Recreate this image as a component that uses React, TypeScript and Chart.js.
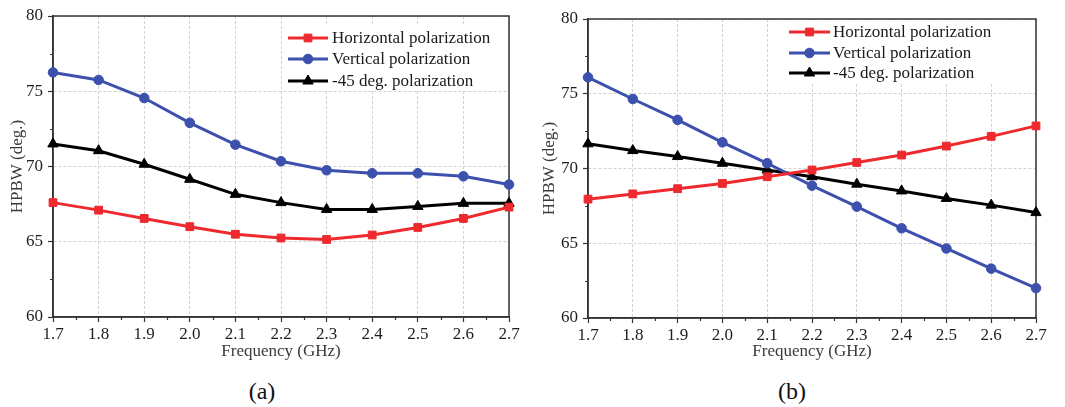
import React, { useEffect, useRef } from 'react';
import { Chart, registerables } from 'chart.js';

Chart.register(...registerables);

// ---------- data ----------
const frequency = [1.7, 1.8, 1.9, 2.0, 2.1, 2.2, 2.3, 2.4, 2.5, 2.6, 2.7];
const xTickValues = [1.7, 1.8, 1.9, 2.0, 2.1, 2.2, 2.3, 2.4, 2.5, 2.6, 2.7];
const xMinorValues = [1.75, 1.85, 1.95, 2.05, 2.15, 2.25, 2.35, 2.45, 2.55, 2.65];
const yTickValues = [60, 65, 70, 75, 80];
const yMinorValues = [62.5, 67.5, 72.5, 77.5];

const seriesNames = ['Horizontal polarization', 'Vertical polarization', '-45 deg. polarization'];

const horizontalA = [67.6, 67.1, 66.55, 66.0, 65.5, 65.25, 65.15, 65.45, 65.95, 66.55, 67.3];
const verticalA = [76.25, 75.75, 74.55, 72.9, 71.45, 70.35, 69.75, 69.55, 69.55, 69.35, 68.8];
const minus45A = [71.5, 71.05, 70.15, 69.15, 68.15, 67.6, 67.15, 67.15, 67.35, 67.55, 67.55];

const horizontalB = [67.95, 68.3, 68.65, 69.0, 69.45, 69.9, 70.4, 70.9, 71.5, 72.15, 72.85];
const verticalB = [76.1, 74.65, 73.25, 71.75, 70.35, 68.85, 67.45, 66.0, 64.65, 63.3, 62.0];
const minus45B = [71.65, 71.2, 70.8, 70.35, 69.9, 69.45, 68.95, 68.5, 68.0, 67.55, 67.05];

// ---------- styles ----------
const FONT = '"Liberation Serif", "Times New Roman", serif';
const FS = 17;
const RED = '#ee2a2e';
const BLUE = '#3c50ad';
const BLACK = '#000000';
const colors = [RED, BLUE, BLACK];
const pointStyles = ['rect', 'circle', 'triangle'];
const pointRadii = [5.5, 4.8, 6];

type Panel = {
  left: number;
  width: number;
  height: number;
  yAxisWidth: number;
  xAxisHeight: number;
  padTop: number;
  padRight: number;
  yTitlePad: number;
  legend: { x0: number; x1: number; tx: number; ys: number[]; box: number[] };
};

const panelA: Panel = {
  left: 0,
  width: 525,
  height: 370,
  yAxisWidth: 53,
  xAxisHeight: 53,
  padTop: 16,
  padRight: 16,
  yTitlePad: 7.8,
  legend: { x0: 288, x1: 328, tx: 332, ys: [38, 59, 81], box: [283, 25, 505, 91] },
};

const panelB: Panel = {
  left: 530,
  width: 535,
  height: 370,
  yAxisWidth: 58,
  xAxisHeight: 52,
  padTop: 19,
  padRight: 29,
  yTitlePad: 9.8,
  legend: { x0: 259, x1: 300, tx: 303, ys: [32, 53, 73], box: [254, 20, 490, 84] },
};

function drawMarker(ctx: CanvasRenderingContext2D, style: string, x: number, y: number, r: number, color: string) {
  ctx.save();
  ctx.fillStyle = color;
  ctx.strokeStyle = color;
  ctx.lineWidth = 1;
  ctx.beginPath();
  if (style === 'rect') {
    const s = r * Math.SQRT1_2;
    ctx.rect(x - s, y - s, 2 * s, 2 * s);
  } else if (style === 'circle') {
    ctx.arc(x, y, r, 0, Math.PI * 2);
  } else {
    ctx.moveTo(x, y - r);
    ctx.lineTo(x + r * 0.866, y + r * 0.5);
    ctx.lineTo(x - r * 0.866, y + r * 0.5);
    ctx.closePath();
  }
  ctx.fill();
  ctx.stroke();
  ctx.restore();
}

const framePlugin = {
  id: 'frameAndMinor',
  beforeDatasetsDraw(chart: any) {
    const { ctx, chartArea } = chart;
    const xs = chart.scales.x;
    const ys = chart.scales.y;
    ctx.save();
    ctx.strokeStyle = '#333333';
    ctx.lineWidth = 1.5;
    ctx.strokeRect(chartArea.left, chartArea.top, chartArea.right - chartArea.left, chartArea.bottom - chartArea.top);
    ctx.lineWidth = 1.2;
    ctx.beginPath();
    xMinorValues.forEach((v) => {
      const px = Math.round(xs.getPixelForValue(v)) + 0.5;
      ctx.moveTo(px, chartArea.bottom);
      ctx.lineTo(px, chartArea.bottom + 3);
    });
    yMinorValues.forEach((v) => {
      const py = Math.round(ys.getPixelForValue(v)) + 0.5;
      ctx.moveTo(chartArea.left, py);
      ctx.lineTo(chartArea.left - 3, py);
    });
    ctx.stroke();
    ctx.restore();
  },
};

const legendPlugin = {
  id: 'innerLegend',
  afterDatasetsDraw(chart: any, _args: any, opts: any) {
    const { ctx } = chart;
    const lg = opts.legend;
    ctx.save();
    ctx.fillStyle = '#ffffff';
    ctx.fillRect(lg.box[0], lg.box[1], lg.box[2] - lg.box[0], lg.box[3] - lg.box[1]);
    seriesNames.forEach((name, i) => {
      const y = lg.ys[i];
      ctx.strokeStyle = colors[i];
      ctx.lineWidth = 3;
      ctx.beginPath();
      ctx.moveTo(lg.x0, y);
      ctx.lineTo(lg.x1, y);
      ctx.stroke();
      drawMarker(ctx, pointStyles[i], (lg.x0 + lg.x1) / 2, y, pointRadii[i], colors[i]);
      ctx.fillStyle = '#1a1a1a';
      ctx.font = `${FS}px ${FONT}`;
      ctx.textAlign = 'left';
      ctx.textBaseline = 'middle';
      ctx.fillText(name, lg.tx, y + 1);
    });
    ctx.restore();
  },
};

function ChartPanel({ panel, series }: { panel: Panel; series: number[][] }) {
  const ref = useRef<HTMLCanvasElement | null>(null);
  useEffect(() => {
    if (!ref.current) return;
    const chart = new Chart(ref.current, {
      type: 'line',
      data: {
        datasets: series.map((vals, i) => ({
          label: seriesNames[i],
          data: frequency.map((f, j) => ({ x: f, y: vals[j] })),
          borderColor: colors[i],
          backgroundColor: colors[i],
          borderWidth: 3,
          pointStyle: pointStyles[i] as any,
          pointRadius: pointRadii[i],
          pointBorderWidth: 1,
          pointBorderColor: colors[i],
          pointBackgroundColor: colors[i],
          tension: 0,
          fill: false,
          clip: false as any,
        })),
      },
      options: {
        animation: false,
        responsive: false,
        maintainAspectRatio: false,
        layout: { padding: { left: 0, top: panel.padTop, right: panel.padRight, bottom: 0 } },
        plugins: {
          legend: { display: false },
          tooltip: { enabled: false },
          innerLegend: { legend: panel.legend },
        } as any,
        scales: {
          x: {
            type: 'linear',
            min: 1.7,
            max: 2.7,
            afterBuildTicks: (s: any) => {
              s.ticks = xTickValues.map((v) => ({ value: v }));
            },
            afterFit: (s: any) => {
              s.height = panel.xAxisHeight;
            },
            ticks: {
              font: { family: FONT, size: FS },
              color: '#1e1e1e',
              padding: 2,
              maxRotation: 0,
              autoSkip: false,
              callback: (v: any) => Number(v).toFixed(1),
            },
            grid: {
              color: '#d2d2d2',
              lineWidth: 1,
              tickLength: 5,
              tickColor: '#333333',
              tickWidth: 1.2,
            },
            border: { color: '#333333', width: 1.5, dash: [3, 2] },
            title: {
              display: true,
              text: 'Frequency (GHz)',
              font: { family: FONT, size: FS },
              color: '#3a3a3a',
              padding: { top: 0, bottom: 7.8 },
            },
          },
          y: {
            type: 'linear',
            min: 60,
            max: 80,
            afterBuildTicks: (s: any) => {
              s.ticks = yTickValues.map((v) => ({ value: v }));
            },
            afterFit: (s: any) => {
              s.width = panel.yAxisWidth;
            },
            ticks: {
              font: { family: FONT, size: FS },
              color: '#1e1e1e',
              padding: 5,
              callback: (v: any) => String(v),
            },
            grid: {
              color: '#d2d2d2',
              lineWidth: 1,
              tickLength: 5,
              tickColor: '#333333',
              tickWidth: 1.2,
            },
            border: { color: '#333333', width: 1.5, dash: [3, 2] },
            title: {
              display: true,
              text: 'HPBW (deg.)',
              font: { family: FONT, size: FS },
              color: '#3a3a3a',
              padding: { top: panel.yTitlePad, bottom: 0 },
            },
          },
        },
      },
      plugins: [framePlugin, legendPlugin],
    });
    return () => chart.destroy();
  }, [panel, series]);
  return (
    <canvas
      ref={ref}
      width={panel.width}
      height={panel.height}
      style={{ position: 'absolute', left: panel.left, top: 0, width: panel.width, height: panel.height }}
    />
  );
}

const seriesA = [horizontalA, verticalA, minus45A];
const seriesB = [horizontalB, verticalB, minus45B];

export default function App() {
  useEffect(() => {
    document.body.style.margin = '0';
  }, []);
  const captionStyle: React.CSSProperties = {
    position: 'absolute',
    top: 377,
    fontFamily: FONT,
    fontSize: 24,
    color: '#111',
    transform: 'translateX(-50%)',
    lineHeight: '28px',
  };
  return (
    <div style={{ position: 'absolute', left: 0, top: 0, width: 1065, height: 407, background: '#fff', overflow: 'hidden' }}>
      <ChartPanel panel={panelA} series={seriesA} />
      <ChartPanel panel={panelB} series={seriesB} />
      <div style={{ ...captionStyle, left: 262 }}>(a)</div>
      <div style={{ ...captionStyle, left: 792 }}>(b)</div>
    </div>
  );
}
